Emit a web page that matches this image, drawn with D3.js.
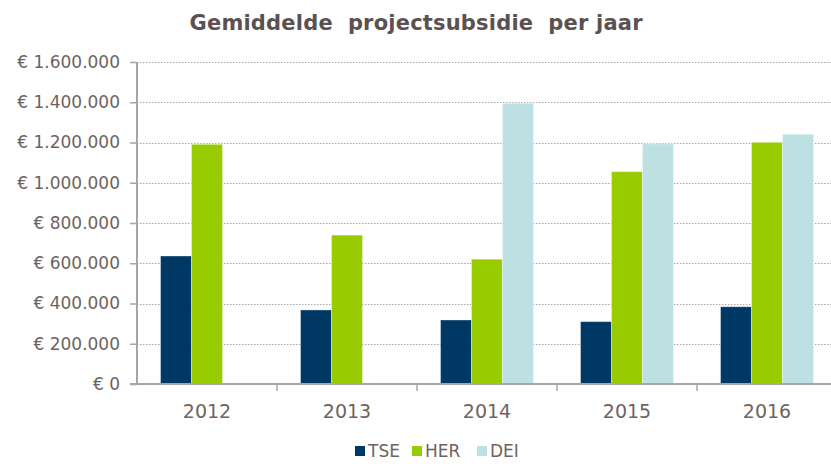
<!DOCTYPE html>
<html>
<head>
<meta charset="utf-8">
<script src="https://cdn.jsdelivr.net/npm/d3@7"></script>
<style>
  body { margin: 0; background: #fff; }
  text { font-family: "DejaVu Sans", Verdana, sans-serif; fill: #6e6360; }
</style>
</head>
<body>
<svg width="831" height="464"></svg>
<script>
// data
var years = ["2012", "2013", "2014", "2015", "2016"];
var series = ["TSE", "HER", "DEI"];
var tse = [636000, 368000, 318000, 310000, 384000];
var her = [1191000, 740000, 620000, 1055000, 1201000];
var dei = [null, null, 1395000, 1193000, 1241000];
var yTicks = [0, 200000, 400000, 600000, 800000, 1000000, 1200000, 1400000, 1600000];
var colors = ["#003865", "#99cc00", "#bde0e3"];

var values = { TSE: tse, HER: her, DEI: dei };

var svg = d3.select("svg"),
    width = +svg.attr("width"),
    height = +svg.attr("height");

var margin = { left: 137, top: 62, bottom: 384 };

var x = d3.scaleBand()
    .domain(years)
    .range([margin.left, margin.left + 700])
    .paddingInner(0.336)
    .paddingOuter(0.168);

var xs = d3.scaleBand()
    .domain(series)
    .range([0, x.bandwidth()]);

var y = d3.scaleLinear()
    .domain([0, 1600000])
    .range([margin.bottom, margin.top]);

var fmt = function(v) {
  return "€ " + d3.format(",")(v).replace(/,/g, ".");
};

// gridlines
svg.append("g")
  .selectAll("line")
  .data(yTicks.slice(1))
  .enter().append("line")
    .attr("x1", margin.left)
    .attr("x2", width)
    .attr("y1", function(d) { return Math.round(y(d)) + 0.5; })
    .attr("y2", function(d) { return Math.round(y(d)) + 0.5; })
    .attr("stroke", "#a8a8a8")
    .attr("stroke-width", 1.2)
    .attr("stroke-dasharray", "1.5,1.5");

// bars
svg.append("g")
  .selectAll("g")
  .data(series)
  .enter().append("g")
    .attr("fill", function(d, i) { return colors[i]; })
  .selectAll("rect")
  .data(function(s) {
    return years.map(function(yr, i) { return { s: s, year: yr, v: values[s][i] }; })
      .filter(function(d) { return d.v != null; });
  })
  .enter().append("rect")
    .attr("x", function(d) { return x(d.year) + xs(d.s); })
    .attr("width", xs.bandwidth())
    .attr("y", function(d) { return y(d.v); })
    .attr("height", function(d) { return y(0) - y(d.v); })
    .attr("stroke", "rgba(255,255,255,0.35)")
    .attr("stroke-width", 1);

// y axis
var yAxis = svg.append("g")
    .attr("transform", "translate(" + margin.left + ",0)")
    .call(d3.axisLeft(y).tickValues(yTicks).tickFormat(fmt).tickSize(7).tickPadding(10));
yAxis.select(".domain").attr("stroke", "#a6a6a6").attr("stroke-width", 2).attr("d", "M0," + margin.top + "V" + margin.bottom);
yAxis.selectAll(".tick line").attr("stroke", "#a6a6a6").attr("stroke-width", 1.5);
yAxis.selectAll(".tick text").style("font-size", "17px").attr("fill", "#6e6360")
    .style("font-family", "DejaVu Sans, Verdana, sans-serif");

// x axis
var xg = svg.append("g");
xg.append("line")
    .attr("x1", margin.left - 7).attr("x2", width)
    .attr("y1", y(0)).attr("y2", y(0))
    .attr("stroke", "#a6a6a6").attr("stroke-width", 2);
xg.selectAll(".xtick")
  .data(years.slice(1))
  .enter().append("line")
    .attr("x1", function(d) { return x(d) - x.step() * x.paddingInner() / 2; })
    .attr("x2", function(d) { return x(d) - x.step() * x.paddingInner() / 2; })
    .attr("y1", y(0)).attr("y2", y(0) + 7)
    .attr("stroke", "#a6a6a6").attr("stroke-width", 1.5);
xg.selectAll(".xlabel")
  .data(years)
  .enter().append("text")
    .attr("x", function(d) { return x(d) + x.bandwidth() / 2; })
    .attr("y", 418)
    .attr("text-anchor", "middle")
    .style("font-size", "19px")
    .text(function(d) { return d; });

// title
svg.append("text")
    .attr("x", 416)
    .attr("y", 30)
    .attr("text-anchor", "middle")
    .attr("textLength", 453)
    .style("white-space", "pre")
    .style("font-size", "21px")
    .style("font-weight", "bold")
    .style("fill", "#5b5150")
    .text("Gemiddelde  projectsubsidie  per jaar");

// legend
var legendX = [355, 412, 477];
var legend = svg.append("g")
  .selectAll("g")
  .data(series)
  .enter().append("g")
    .attr("transform", function(d, i) { return "translate(" + legendX[i] + ",446)"; });
legend.append("rect")
    .attr("width", 10).attr("height", 10)
    .attr("fill", function(d, i) { return colors[i]; });
legend.append("text")
    .attr("x", 13)
    .attr("y", 11)
    .style("font-size", "17px")
    .text(function(d) { return d; });
</script>
</body>
</html>
